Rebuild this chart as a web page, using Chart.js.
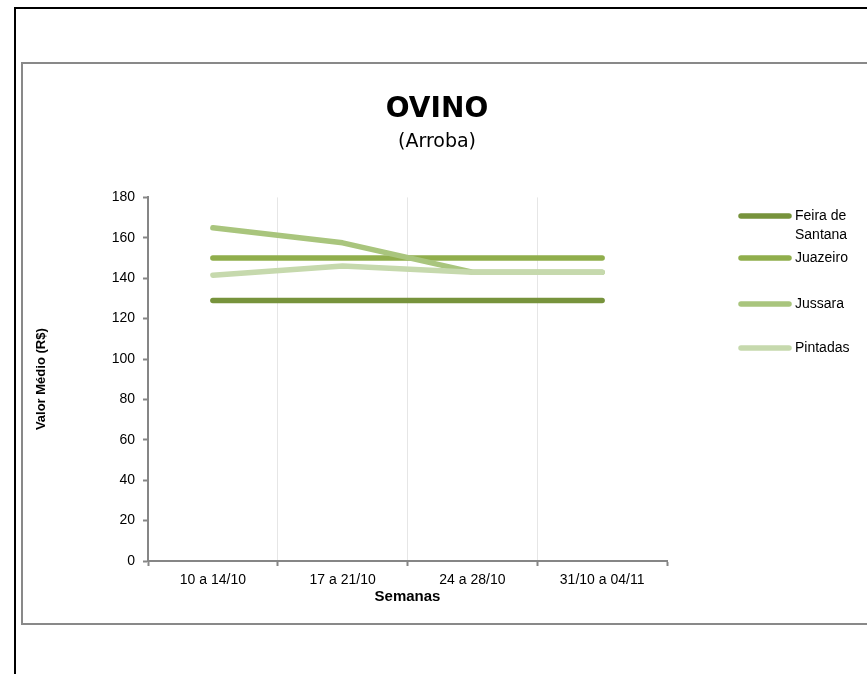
<!DOCTYPE html>
<html lang="pt-BR">
<head>
<meta charset="UTF-8">
<title>OVINO (Arroba)</title>
<style>
body { margin:0; padding:0; background:#fff; width:867px; height:674px; overflow:hidden; position:relative; }
#outer { position:absolute; left:14px; top:7px; width:900px; height:700px; border-left:2px solid #000; border-top:2px solid #000; }
#inner { position:absolute; left:21px; top:62px; width:900px; height:559px; border:2px solid #898989; border-right:none; }
#chart { position:absolute; left:0; top:0; }
</style>
</head>
<body>
<div id="outer"></div>
<div id="inner"></div>
<canvas id="chart" width="867" height="674"></canvas>

<script src="https://cdn.jsdelivr.net/npm/chart.js"></script>
<script>
// dados (R$ por arroba)
const semanas = ['10 a 14/10', '17 a 21/10', '24 a 28/10', '31/10 a 04/11'];
const seriesNames = ['Feira de Santana', 'Juazeiro', 'Jussara', 'Pintadas'];
const feiraDeSantana = [129, 129, 129, 129];
const juazeiro = [150, 150, 150, 150];
const jussara = [165, 157.5, 143, 143];
const pintadas = [141.5, 146, 143, 143];
const yTicks = [0, 20, 40, 60, 80, 100, 120, 140, 160, 180];

const cores = ['#77933c', '#90ae4c', '#a9c57d', '#c6d9ad'];

Chart.defaults.font.family = '"Liberation Sans", Arial, sans-serif';
Chart.defaults.font.size = 14;
Chart.defaults.color = '#000';

// legenda desenhada à direita, no estilo do Excel
const legendaDireita = {
  id: 'legendaDireita',
  afterDraw(chart) {
    const ctx = chart.ctx;
    const ys = [216, 258, 304, 348];
    ctx.save();
    ctx.font = '14px "Liberation Sans", Arial, sans-serif';
    ctx.textBaseline = 'middle';
    ctx.fillStyle = '#000';
    chart.data.datasets.forEach((ds, i) => {
      const y = ys[i];
      ctx.strokeStyle = ds.borderColor;
      ctx.lineWidth = 5.5;
      ctx.lineCap = 'round';
      ctx.beginPath();
      ctx.moveTo(741, y);
      ctx.lineTo(789, y);
      ctx.stroke();
      // quebra de linha simples
      const words = ds.label.split(' ');
      let lines = [], cur = '';
      words.forEach(w => {
        const t = cur ? cur + ' ' + w : w;
        if (ctx.measureText(t).width > 62 && cur) { lines.push(cur); cur = w; }
        else cur = t;
      });
      lines.push(cur);
      lines.forEach((l, k) => ctx.fillText(l, 795, y + k * 19));
    });
    ctx.restore();
  }
};

const datasets = [feiraDeSantana, juazeiro, jussara, pintadas].map((vals, i) => ({
  label: seriesNames[i],
  data: vals,
  borderColor: cores[i],
  backgroundColor: cores[i],
  borderWidth: 5.5,
  borderCapStyle: 'round',
  borderJoinStyle: 'round',
  pointRadius: 0,
  tension: 0,
  fill: false,
  order: 4 - i
}));

new Chart(document.getElementById('chart'), {
  type: 'line',
  data: { labels: semanas, datasets: datasets },
  options: {
    responsive: false,
    animation: false,
    layout: { padding: { left: 7, right: 0, top: 0, bottom: 0 } },
    plugins: {
      legend: { display: false },
      tooltip: { enabled: false },
      title: {
        display: true,
        text: 'OVINO',
        font: { family: '"DejaVu Sans", Verdana, sans-serif', size: 28, weight: 'bold' },
        color: '#000',
        padding: { top: 93, bottom: 0 }
      },
      subtitle: {
        display: true,
        text: '(Arroba)',
        font: { family: '"DejaVu Sans", Verdana, sans-serif', size: 19 },
        color: '#000',
        padding: { top: 4, bottom: 44 }
      }
    },
    scales: {
      x: {
        offset: true,
        grid: {
          offset: true,
          color: c => c.type === 'tick' ? '#e6e6e6' : 'rgba(0,0,0,0)',
          tickColor: '#868686',
          tickLength: 5,
          tickWidth: 2
        },
        border: { color: '#868686', width: 2 },
        ticks: { padding: 6, maxRotation: 0 },
        title: {
          display: true,
          text: 'Semanas',
          font: { size: 15, weight: 'bold' },
          padding: { top: 0, bottom: 68 }
        },
        afterFit: s => { s.height = 113; }
      },
      y: {
        min: 0,
        max: 180,
        afterBuildTicks: s => { s.ticks = yTicks.map(v => ({ value: v })); },
        grid: { drawOnChartArea: false, tickColor: '#868686', tickLength: 5, tickWidth: 2 },
        border: { color: '#868686', width: 2 },
        ticks: { padding: 8 },
        title: {
          display: true,
          text: 'Valor Médio (R$)',
          font: { size: 13, weight: 'bold' },
          padding: { top: 27, bottom: 0 }
        },
        afterFit: s => { s.width = 141; }
      },
      // eixo vazio à direita, só reserva o espaço da legenda
      espacoLegenda: {
        position: 'right',
        display: true,
        grid: { display: false },
        border: { display: false },
        ticks: { display: false },
        afterFit: s => { s.width = 200; }
      }
    }
  },
  plugins: [legendaDireita]
});
</script>
</body>
</html>
